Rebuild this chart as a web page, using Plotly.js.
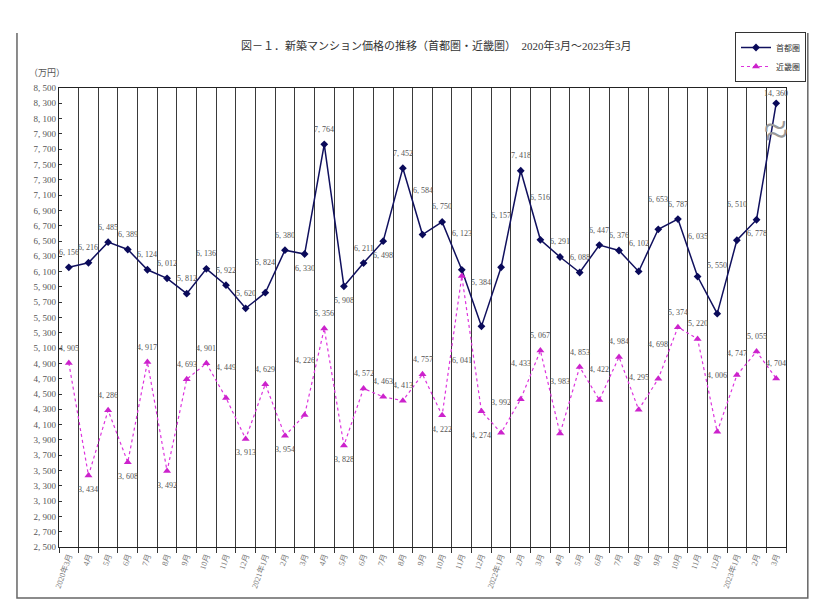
<!DOCTYPE html>
<html>
<head>
<meta charset="utf-8">
<script src="https://cdn.plot.ly/plotly-3.0.1.min.js"></script>
<style>html,body{margin:0;padding:0;background:#fff;}#chart{width:831px;height:610px;}</style>
</head>
<body>
<div id="chart"></div>
<script>
// ---- data ----
const months = [
  "2020年3月","4月","5月","6月","7月","8月","9月","10月","11月","12月",
  "2021年1月","2月","3月","4月","5月","6月","7月","8月","9月","10月","11月","12月",
  "2022年1月","2月","3月","4月","5月","6月","7月","8月","9月","10月","11月","12月",
  "2023年1月","2月","3月"
];
const shuto = [6156,6216,6485,6389,6124,6012,5812,6136,5922,5620,
  5824,6380,6330,7764,5908,6211,6498,7452,6584,6750,6123,5384,
  6157,7418,6516,6291,6088,6447,6376,6102,6653,6787,6035,5550,
  6510,6778,14360];
const kinki = [4905,3434,4286,3608,4917,3492,4693,4901,4449,3913,
  4629,3954,4226,5356,3828,4572,4463,4413,4757,4222,6041,4274,
  3992,4433,5067,3983,4853,4422,4984,4295,4698,5374,5220,4006,
  4747,5055,4704];
const seriesNames = ["首都圏","近畿圏"];
const yTicks = [];
for (let v = 2500; v <= 8500; v += 200) yTicks.push(v);

// ---- style ----
const AXIS_TOP = 8500, AXIS_BOTTOM = 2500;
const BREAK_CAP = 8300; // values above the axis top are drawn at this level (axis break)
const fmt = v => { const s = String(v); return s.slice(0, s.length-3) + ", " + s.slice(-3); };
// label placement (pixel offsets of value labels; default above = 15, below = -14)
const shutoBelow = new Set([12,14,16,35]);
const kinkiBelow = new Set([1,3,5,9,11,14,19,20,21]);
const shutoShift = {10: 30, 18: 44, 20: 36, 21: 44, 22: 52, 24: 42, 29: 28, 30: 30, 32: 40, 33: 48, 34: 36, 36: 10};
const kinkiShift = {8: 30, 12: 54, 20: -84, 21: -24, 22: 30, 23: 36, 25: 52, 27: 30, 29: 32, 30: 34, 33: 56, 34: 22};
const serif = '"Liberation Serif", "DejaVu Serif", "Noto Sans CJK JP", serif';
const labelFont = {family: serif, size: 8, color: '#555555'};

const idx = months.map((m, i) => i);
const boundaries = months.map((m, i) => i - 0.5).concat([months.length - 0.5]);
const xRange = [-0.5, months.length - 0.5];
const shutoPlot = shuto.map(v => Math.min(v, BREAK_CAP));

const traces = [
  {
    x: idx, y: shutoPlot, name: seriesNames[0], type: 'scatter', mode: 'lines+markers',
    line: {color: '#10105e', width: 1.5},
    marker: {symbol: 'diamond', size: 6, color: '#0a0a5a'},
    cliponaxis: false, hoverinfo: 'skip'
  },
  {
    x: idx, y: kinki, name: seriesNames[1], type: 'scatter', mode: 'lines+markers',
    line: {color: '#dd33dd', width: 1.2, dash: 'dot'},
    marker: {symbol: 'triangle-up', size: 7, color: '#cc22cc'},
    cliponaxis: false, hoverinfo: 'skip'
  },
  // empty trace so the boundary axis (xaxis2) is drawn
  {x: [], y: [], xaxis: 'x2', yaxis: 'y', showlegend: false, hoverinfo: 'skip', type: 'scatter'}
];

const labelAnn = (vals, plotVals, below, shift) => vals.map((v, i) => ({
  text: fmt(v), x: idx[i], y: plotVals[i], xref: 'x', yref: 'y', showarrow: false,
  xanchor: 'center', yanchor: 'middle',
  yshift: (i in shift) ? shift[i] : (below.has(i) ? -14 : 15),
  font: labelFont
}));

const layout = {
  width: 831, height: 610,
  margin: {l: 59, r: 45, t: 88, b: 63},
  paper_bgcolor: '#fff', plot_bgcolor: '#fff',
  showlegend: true,
  title: {
    text: '図－１．新築マンション価格の推移（首都圏・近畿圏）　2020年3月～2023年3月',
    font: {family: serif, size: 11, color: '#333'},
    x: 0.525, xref: 'container', xanchor: 'center',
    y: 0.925, yref: 'container', yanchor: 'middle'
  },
  legend: {
    x: 1.0275, xanchor: 'right', y: 1.122, yanchor: 'top',
    bgcolor: '#fff', bordercolor: '#333', borderwidth: 1,
    font: {family: serif, size: 8, color: '#333'},
    itemwidth: 30, tracegroupgap: 0
  },
  xaxis: {
    range: xRange, tickmode: 'array', tickvals: idx, ticktext: months,
    showgrid: false, zeroline: false, ticks: '',
    showline: true, linecolor: '#222', linewidth: 1.2, mirror: true,
    tickangle: -70, tickfont: {family: serif, size: 8, color: '#777'},
    automargin: false, fixedrange: true
  },
  xaxis2: {
    overlaying: 'x', side: 'bottom', range: xRange,
    tickmode: 'array', tickvals: boundaries, showticklabels: false,
    showgrid: true, gridcolor: '#3a3a3a', gridwidth: 1, zeroline: false,
    ticks: 'outside', ticklen: 5, tickcolor: '#333', showline: false,
    automargin: false, fixedrange: true
  },
  yaxis: {
    range: [AXIS_BOTTOM, AXIS_TOP],
    tickvals: yTicks, ticktext: yTicks.map(fmt),
    showgrid: false, zeroline: false,
    ticks: 'inside', ticklen: 3, tickcolor: '#333',
    showline: true, linecolor: '#222', linewidth: 1.2, mirror: true,
    tickfont: {family: serif, size: 9, color: '#555'},
    automargin: false, fixedrange: true
  },
  shapes: [
    {type: 'path', xref: 'paper', yref: 'paper',
     path: 'M -0.0578 1.12 L -0.0578 -0.111 L 1.030 -0.111 L 1.030 1.12',
     line: {color: '#666', width: 1.5}, layer: 'below'}
  ],
  annotations: [
    {text: '（万円）', xref: 'paper', yref: 'paper', x: -0.017, y: 1.033, xanchor: 'center', yanchor: 'middle',
     showarrow: false, font: {family: serif, size: 9, color: '#555'}},
    {text: '≈', xref: 'x', yref: 'y', x: idx[idx.length-1], y: 7950, showarrow: false,
     font: {family: serif, size: 44, color: '#999'}, textangle: -10}
  ].concat(labelAnn(shuto, shutoPlot, shutoBelow, shutoShift), labelAnn(kinki, kinki, kinkiBelow, kinkiShift))
};

Plotly.newPlot('chart', traces, layout, {displayModeBar: false, staticPlot: true});
</script>
</body>
</html>
